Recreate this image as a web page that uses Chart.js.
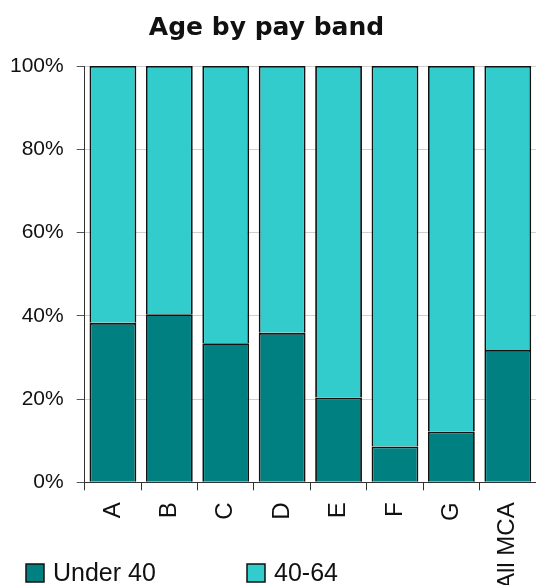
<!DOCTYPE html>
<html>
<head>
<meta charset="utf-8">
<script src="https://cdn.jsdelivr.net/npm/chart.js@4/dist/chart.umd.min.js"></script>
<style>
  html, body { margin: 0; padding: 0; background: #fff; overflow: hidden; }
  #wrap { width: 536px; height: 620px; }
</style>
</head>
<body>
<div id="wrap"><canvas id="ageChart" width="536" height="620"></canvas></div>
<script>
// pay bands along the x axis
const bands = ['A', 'B', 'C', 'D', 'E', 'F', 'G', 'All MCA'];
// share of staff in each band, percent
const under40 = [38.3, 40.4, 33.4, 35.9, 20.4, 8.6, 12.2, 31.8];
const age40to64 = [61.7, 59.6, 66.6, 64.1, 79.6, 91.4, 87.8, 68.2];
const yTicks = [0, 20, 40, 60, 80, 100];

// legend drawn under the plot, next to the rotated labels
const bottomLegend = {
  id: 'bottomLegend',
  afterDraw(chart) {
    const ctx = chart.ctx;
    ctx.save();
    ctx.font = '25px "Liberation Sans", Arial, sans-serif';
    ctx.textBaseline = 'middle';
    chart.data.datasets.forEach((ds, i) => {
      const x = 26 + i * 221;
      const y = 564;
      ctx.fillStyle = ds.backgroundColor;
      ctx.fillRect(x, y, 18, 18);
      ctx.strokeStyle = '#111';
      ctx.lineWidth = 1.5;
      ctx.strokeRect(x, y, 18, 18);
      ctx.fillStyle = '#111';
      ctx.fillText(ds.label, x + 27, y + 10);
    });
    ctx.restore();
  }
};

document.addEventListener('DOMContentLoaded', () => {
  const ctx = document.getElementById('ageChart').getContext('2d');

  new Chart(ctx, {
    type: 'bar',
    data: {
      labels: bands,
      datasets: [
        {
          label: 'Under 40',
          data: under40,
          backgroundColor: '#008080',
          borderColor: '#111',
          borderWidth: 1.8,
          barPercentage: 0.83,
          categoryPercentage: 1
        },
        {
          label: '40-64',
          data: age40to64,
          backgroundColor: '#33CCCC',
          borderColor: '#111',
          borderWidth: 1.8,
          barPercentage: 0.83,
          categoryPercentage: 1
        }
      ]
    },
    options: {
      responsive: false,
      animation: false,
      layout: { padding: { left: -3, right: 0, top: 0, bottom: 19 } },
      plugins: {
        legend: { display: false },
        tooltip: { enabled: false },
        title: {
          display: true,
          text: 'Age by pay band',
          color: '#111',
          font: { family: '"DejaVu Sans", sans-serif', size: 25, weight: 'bold' },
          padding: { top: 13, bottom: 23 }
        }
      },
      scales: {
        x: {
          stacked: true,
          afterFit: s => { s.paddingLeft = 0; s.paddingRight = 0; },
          grid: { drawOnChartArea: false, tickLength: 8, tickColor: '#333', offset: true },
          border: { color: '#333', width: 1 },
          ticks: {
            color: '#111',
            font: { family: '"Liberation Sans", Arial, sans-serif', size: 24 },
            minRotation: 90,
            maxRotation: 90,
            padding: 12,
            autoSkip: false
          }
        },
        y: {
          stacked: true,
          min: 0,
          max: 100,
          afterBuildTicks: axis => { axis.ticks = yTicks.map(v => ({ value: v })); },
          grid: { color: '#cfcfcf', tickLength: 8, tickColor: '#555' },
          border: { color: '#333', width: 1 },
          ticks: {
            color: '#111',
            font: { family: '"Liberation Sans", Arial, sans-serif', size: 21 },
            padding: 13,
            callback: v => v + '%'
          }
        }
      }
    },
    plugins: [bottomLegend]
  });
});
</script>
</body>
</html>
